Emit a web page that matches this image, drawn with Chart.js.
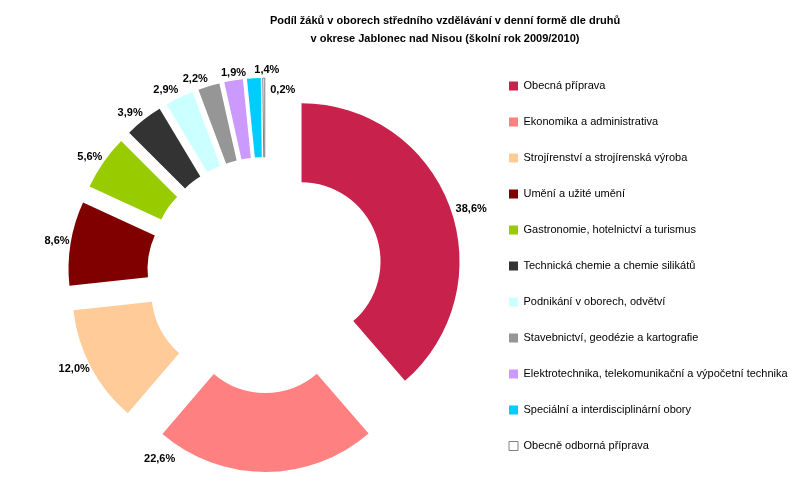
<!DOCTYPE html>
<html lang="cs">
<head>
<meta charset="utf-8">
<title>Podíl žáků v oborech středního vzdělávání</title>
<script src="https://cdn.jsdelivr.net/npm/chart.js@4/dist/chart.umd.min.js"></script>
<style>
  html, body { margin: 0; padding: 0; background: #fff; overflow: hidden; }
  #wrap { position: relative; width: 844px; height: 485px; }
</style>
</head>
<body>
<div id="wrap"><canvas id="graf"></canvas></div>
<script>
const titleLines = [
  'Podíl žáků v oborech středního vzdělávání v denní formě dle druhů',
  'v okrese Jablonec nad Nisou (školní rok 2009/2010)'
];

const obory = [
  'Obecná příprava',
  'Ekonomika a administrativa',
  'Strojírenství a strojírenská výroba',
  'Umění a užité umění',
  'Gastronomie, hotelnictví a turismus',
  'Technická chemie a chemie silikátů',
  'Podnikání v oborech, odvětví',
  'Stavebnictví, geodézie a kartografie',
  'Elektrotechnika, telekomunikační a výpočetní technika',
  'Speciální a interdisciplinární obory',
  'Obecně odborná příprava'
];

// podíl v %
const podily = [38.6, 22.6, 12.0, 8.6, 5.6, 3.9, 2.9, 2.2, 1.9, 1.4, 0.2];

const barvy = ['#C8214B', '#FF8080', '#FFCC99', '#800000', '#99CC00', '#333333',
               '#CCFFFF', '#969696', '#CC99FF', '#00CCFF', '#FFFFFF'];

const FONT = '"Liberation Sans", Arial, sans-serif';
const EXPLODE = 39; // every slice pulled out by the same distance

function fmt(v) {
  return v.toFixed(1).replace('.', ',') + '%';
}

// chart.js shrinks exploded slices (offset), so move them ourselves instead
const explode = {
  id: 'explode',
  afterDatasetsUpdate(chart) {
    chart.getDatasetMeta(0).data.forEach(arc => {
      if (arc._exploded) return;
      const draw = arc.draw;
      arc.draw = function (ctx, area) {
        const mid = (this.startAngle + this.endAngle) / 2;
        ctx.save();
        ctx.translate(Math.cos(mid) * EXPLODE, Math.sin(mid) * EXPLODE);
        draw.call(this, ctx, area);
        ctx.restore();
      };
      arc._exploded = true;
    });
  }
};

// a few labels are moved aside like in the original so they don't collide
const labelNudge = { 0: [0, 6], 1: [-106, -21], 9: [13, 0], 10: [19, 20] };

const sliceLabels = {
  id: 'sliceLabels',
  afterDatasetsDraw(chart) {
    const ctx = chart.ctx;
    const meta = chart.getDatasetMeta(0);
    ctx.save();
    ctx.font = 'bold 11px ' + FONT;
    ctx.fillStyle = '#000';
    ctx.textBaseline = 'middle';
    meta.data.forEach((arc, i) => {
      const p = arc.getProps(['x', 'y', 'startAngle', 'endAngle', 'outerRadius'], true);
      const mid = (p.startAngle + p.endAngle) / 2;
      const r = p.outerRadius + EXPLODE;
      const cos = Math.cos(mid), sin = Math.sin(mid);
      const px = p.x + cos * r;
      const py = p.y + sin * r;
      let tx, ty;
      if (Math.abs(cos) > 0.25) {
        ctx.textAlign = cos > 0 ? 'left' : 'right';
        tx = px + (cos > 0 ? 6 : -1);
        ty = py + sin * 7 - 1;
      } else {
        ctx.textAlign = 'center';
        tx = px;
        ty = py + sin * 8;
      }
      const n = labelNudge[i] || [0, 0];
      ctx.fillText(fmt(podily[i]), tx + n[0], ty + n[1]);
    });
    ctx.restore();
  }
};

// legend wider than its content and moved down a bit, as in the original
const legendFit = {
  id: 'legendFit',
  beforeInit(chart) {
    const legend = chart.legend;
    const fit = legend.fit;
    legend.fit = function () {
      this.maxHeight = Math.max(this.maxHeight, 485);
      fit.call(this);
      this.width = 360;
    };
  },
  afterLayout(chart) {
    chart.legend.top += 23.5;
    chart.legend.bottom += 23.5;
  }
};

new Chart(document.getElementById('graf'), {
  type: 'doughnut',
  data: {
    labels: obory,
    datasets: [{
      data: podily,
      backgroundColor: barvy,
      borderColor: barvy.map((c, i) => i === barvy.length - 1 ? '#808080' : c),
      borderWidth: barvy.map((c, i) => i === barvy.length - 1 ? 1 : 0),
      offset: 0,
      radius: 158,
      cutout: '50%'
    }]
  },
  options: {
    responsive: true,
    maintainAspectRatio: false,
    animation: false,
    layout: { padding: { left: 46, right: 0, top: 0, bottom: 0 } },
    plugins: {
      title: {
        display: true,
        text: titleLines,
        color: '#000',
        font: { family: FONT, size: 11, weight: 'bold', lineHeight: '18px' },
        padding: { top: 12, bottom: 17 }
      },
      legend: {
        position: 'right',
        labels: {
          boxWidth: 9,
          boxHeight: 9,
          padding: 25,
          color: '#000',
          font: { family: FONT, size: 11 }
        }
      },
      tooltip: { enabled: false }
    }
  },
  plugins: [explode, sliceLabels, legendFit]
});
</script>
</body>
</html>
